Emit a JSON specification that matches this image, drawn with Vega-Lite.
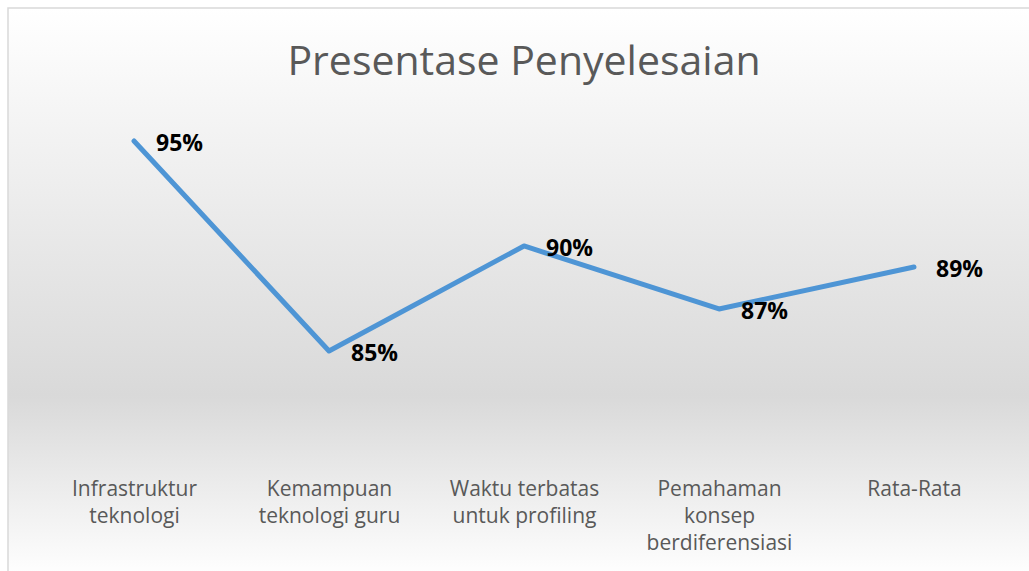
{
  "$schema": "https://vega.github.io/schema/vega-lite/v6.json",
  "autosize": "none",
  "width": 1060,
  "height": 570,
  "padding": {"left": 8, "top": 8, "right": 0, "bottom": 0},
  "background": "white",
  "title": {
    "text": "Presentase Penyelesaian",
    "anchor": "middle",
    "font": "Open Sans",
    "fontSize": 41,
    "fontWeight": "normal",
    "color": "#595959",
    "baseline": "alphabetic",
    "offset": -67,
    "dy": 41,
    "dx": -14
  },
  "config": {
    "view": {
      "stroke": "#d9d9d9",
      "strokeWidth": 1.5,
      "fill": {
        "gradient": "linear",
        "x1": 0, "y1": 0, "x2": 0, "y2": 1,
        "stops": [
          {"offset": 0, "color": "#ffffff"},
          {"offset": 0.68, "color": "#d9d9d9"},
          {"offset": 1, "color": "#ffffff"}
        ]
      }
    }
  },
  "data": {
    "values": [
      {"kategori": "Infrastruktur teknologi", "nilai": 0.95},
      {"kategori": "Kemampuan teknologi guru", "nilai": 0.85},
      {"kategori": "Waktu terbatas untuk profiling", "nilai": 0.90},
      {"kategori": "Pemahaman konsep berdiferensiasi", "nilai": 0.87},
      {"kategori": "Rata-Rata", "nilai": 0.89}
    ]
  },
  "encoding": {
    "x": {
      "field": "kategori",
      "type": "nominal",
      "sort": null,
      "scale": {"type": "point", "padding": 0.718, "align": 0.45},
      "axis": {
        "title": null,
        "orient": "bottom",
        "offset": -100,
        "labelPadding": 0,
        "labelAngle": 0,
        "labelBaseline": "top",
        "labelFont": "Open Sans",
        "labelFontSize": 21,
        "labelColor": "#595959",
        "labelLineHeight": 27,
        "labelLimit": 0,
        "domain": false,
        "ticks": false,
        "grid": false,
        "labelExpr": "datum.label == 'Infrastruktur teknologi' ? ['Infrastruktur', 'teknologi'] : datum.label == 'Kemampuan teknologi guru' ? ['Kemampuan', 'teknologi guru'] : datum.label == 'Waktu terbatas untuk profiling' ? ['Waktu terbatas', 'untuk profiling'] : datum.label == 'Pemahaman konsep berdiferensiasi' ? ['Pemahaman', 'konsep', 'berdiferensiasi'] : datum.label"
      }
    },
    "y": {
      "field": "nilai",
      "type": "quantitative",
      "scale": {"domain": [0.7419, 1.01333], "zero": false, "nice": false},
      "axis": null
    }
  },
  "layer": [
    {
      "mark": {"type": "line", "color": "#4e95d5", "strokeWidth": 5, "strokeCap": "round", "strokeJoin": "round"}
    },
    {
      "mark": {
        "type": "text",
        "align": "left",
        "baseline": "middle",
        "dx": 22,
        "dy": 3,
        "font": "Open Sans",
        "fontSize": 23,
        "fontWeight": "bold",
        "color": "#000000"
      },
      "encoding": {
        "text": {"field": "nilai", "type": "quantitative", "format": ".0%"}
      }
    }
  ]
}
